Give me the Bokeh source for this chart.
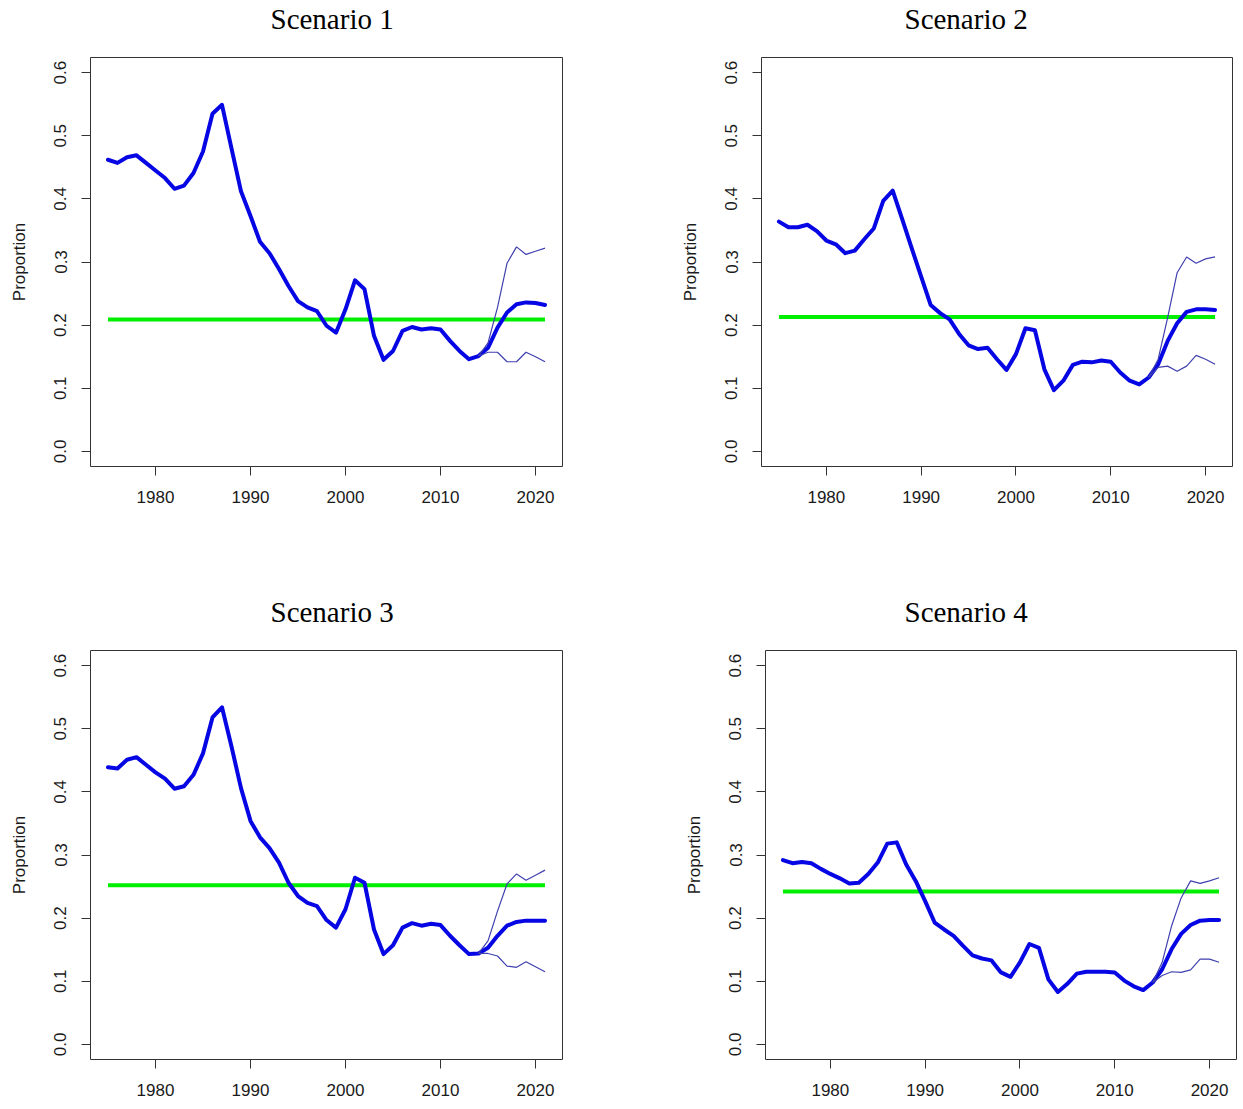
from bokeh.plotting import figure
from bokeh.layouts import column, row
from bokeh.models import FixedTicker, Range1d, LinearAxis, NumeralTickFormatter
from bokeh.embed import file_html
from bokeh.resources import INLINE

years = list(range(1975, 2022))
proj_years = list(range(2014, 2022))
x_ticks = [1980, 1990, 2000, 2010, 2020]
y_ticks = [0.0, 0.1, 0.2, 0.3, 0.4, 0.5, 0.6]
titles = ["Scenario 1", "Scenario 2", "Scenario 3", "Scenario 4"]
y_label = "Proportion"

s1_main = [0.462, 0.457, 0.466, 0.469, 0.457, 0.445, 0.433, 0.416, 0.421, 0.441,
           0.475, 0.535, 0.549, 0.480, 0.412, 0.373, 0.332, 0.314, 0.289, 0.262,
           0.238, 0.228, 0.222, 0.199, 0.188, 0.225, 0.271, 0.257, 0.183, 0.145,
           0.159, 0.191, 0.197, 0.193, 0.195, 0.193, 0.175, 0.159, 0.146, 0.151,
           0.164, 0.196, 0.220, 0.233, 0.236, 0.235, 0.232]
s1_upper = [0.151, 0.172, 0.228, 0.298, 0.324, 0.312, 0.317, 0.322]
s1_lower = [0.151, 0.157, 0.157, 0.142, 0.142, 0.157, 0.150, 0.142]
s1_target = 0.209

s2_main = [0.364, 0.355, 0.355, 0.359, 0.349, 0.334, 0.328, 0.314, 0.318, 0.336,
           0.353, 0.397, 0.413, 0.368, 0.322, 0.277, 0.232, 0.219, 0.209, 0.186,
           0.168, 0.162, 0.164, 0.146, 0.129, 0.154, 0.195, 0.192, 0.130, 0.097,
           0.112, 0.137, 0.142, 0.141, 0.144, 0.142, 0.125, 0.112, 0.106, 0.117,
           0.138, 0.175, 0.203, 0.221, 0.225, 0.225, 0.224]
s2_upper = [0.117, 0.146, 0.212, 0.283, 0.308, 0.298, 0.305, 0.308]
s2_lower = [0.117, 0.133, 0.135, 0.127, 0.135, 0.152, 0.146, 0.138]
s2_target = 0.213

s3_main = [0.439, 0.437, 0.451, 0.455, 0.443, 0.431, 0.421, 0.405, 0.409, 0.427,
           0.461, 0.518, 0.534, 0.472, 0.406, 0.354, 0.328, 0.311, 0.288, 0.256,
           0.235, 0.224, 0.219, 0.197, 0.185, 0.214, 0.264, 0.256, 0.182, 0.143,
           0.157, 0.185, 0.192, 0.188, 0.191, 0.189, 0.172, 0.157, 0.143, 0.144,
           0.153, 0.172, 0.188, 0.194, 0.196, 0.196, 0.196]
s3_upper = [0.144, 0.164, 0.211, 0.254, 0.270, 0.260, 0.268, 0.276]
s3_lower = [0.144, 0.144, 0.140, 0.124, 0.122, 0.131, 0.123, 0.115]
s3_target = 0.252

s4_main = [0.292, 0.287, 0.289, 0.287, 0.278, 0.270, 0.263, 0.255, 0.256, 0.270,
           0.288, 0.318, 0.320, 0.285, 0.259, 0.227, 0.193, 0.182, 0.172, 0.156,
           0.141, 0.136, 0.133, 0.114, 0.107, 0.130, 0.159, 0.153, 0.103, 0.083,
           0.096, 0.112, 0.115, 0.115, 0.115, 0.114, 0.101, 0.092, 0.086, 0.098,
           0.119, 0.151, 0.175, 0.189, 0.196, 0.197, 0.197]
s4_upper = [0.098, 0.130, 0.188, 0.232, 0.259, 0.255, 0.259, 0.264]
s4_lower = [0.098, 0.109, 0.115, 0.114, 0.118, 0.135, 0.135, 0.130]
s4_target = 0.242

SANS = "Liberation Sans"
SERIF = "Liberation Serif"


def panel(title, main, upper, lower, target, width, height, bl, br, bb, title_offset):
    p = figure(width=width, height=height,
               x_range=Range1d(1973.16, 2022.84), y_range=Range1d(-0.024, 0.624),
               output_backend="svg", toolbar_location=None,
               min_border_left=bl, min_border_right=br,
               min_border_top=56, min_border_bottom=bb)
    p.background_fill_color = "white"
    p.border_fill_color = "white"
    p.xgrid.visible = False
    p.ygrid.visible = False
    p.outline_line_color = "#333333"
    p.outline_line_width = 1
    p.outline_line_alpha = 1.0

    xa = p.below[0]
    ya = p.left[0]

    # blank spacer between frame and title (no visible ticks or labels)
    spacer = LinearAxis(axis_line_color=None,
                        major_tick_out=23, major_tick_in=0,
                        major_tick_line_color=None, minor_tick_line_color=None,
                        major_label_text_color=None,
                        major_label_text_font_size="1px",
                        major_label_standoff=0)
    p.add_layout(spacer, "above")

    p.title.text = title
    p.title.text_font = SERIF
    p.title.text_font_size = "29px"
    p.title.text_font_style = "normal"
    p.title.text_color = "black"
    p.title.align = "left"
    p.title.offset = title_offset
    p.title.standoff = 0

    for ax in (xa, ya):
        ax.axis_line_color = None
        ax.major_tick_in = 0
        ax.major_tick_out = 9
        ax.major_tick_line_color = "#333333"
        ax.minor_tick_line_color = None
        ax.major_label_text_font = SANS
        ax.major_label_text_font_size = "17px"
        ax.major_label_text_color = "#1a1a1a"
    xa.ticker = FixedTicker(ticks=x_ticks)
    ya.ticker = FixedTicker(ticks=y_ticks)
    ya.formatter = NumeralTickFormatter(format="0.0")
    ya.major_label_orientation = "vertical"
    xa.major_label_standoff = 15
    ya.major_label_standoff = 15
    ya.axis_label = y_label
    ya.axis_label_text_font = SANS
    ya.axis_label_text_font_size = "17px"
    ya.axis_label_text_font_style = "normal"
    ya.axis_label_text_color = "#1a1a1a"
    ya.axis_label_standoff = 23

    p.line([years[0], years[-1]], [target, target], line_color="#00ee00", line_width=4)
    p.line(years, main, line_color="#0606e4", line_width=4,
           line_join="round", line_cap="round")
    p.line(proj_years, upper, line_color="#4040b0", line_width=1.2)
    p.line(proj_years, lower, line_color="#4040b0", line_width=1.2)
    return p


p1 = panel(titles[0], s1_main, s1_upper, s1_lower, s1_target, 621, 593, 90, 59, 127, 180)
p2 = panel(titles[1], s2_main, s2_upper, s2_lower, s2_target, 622, 593, 140, 11, 127, 143)
p3 = panel(titles[2], s3_main, s3_upper, s3_lower, s3_target, 621, 516, 90, 59, 50, 180)
p4 = panel(titles[3], s4_main, s4_upper, s4_lower, s4_target, 622, 516, 144, 7, 50, 139)

layout = column(row(p1, p2), row(p3, p4))
open("out.html", "w").write(file_html(layout, INLINE))
